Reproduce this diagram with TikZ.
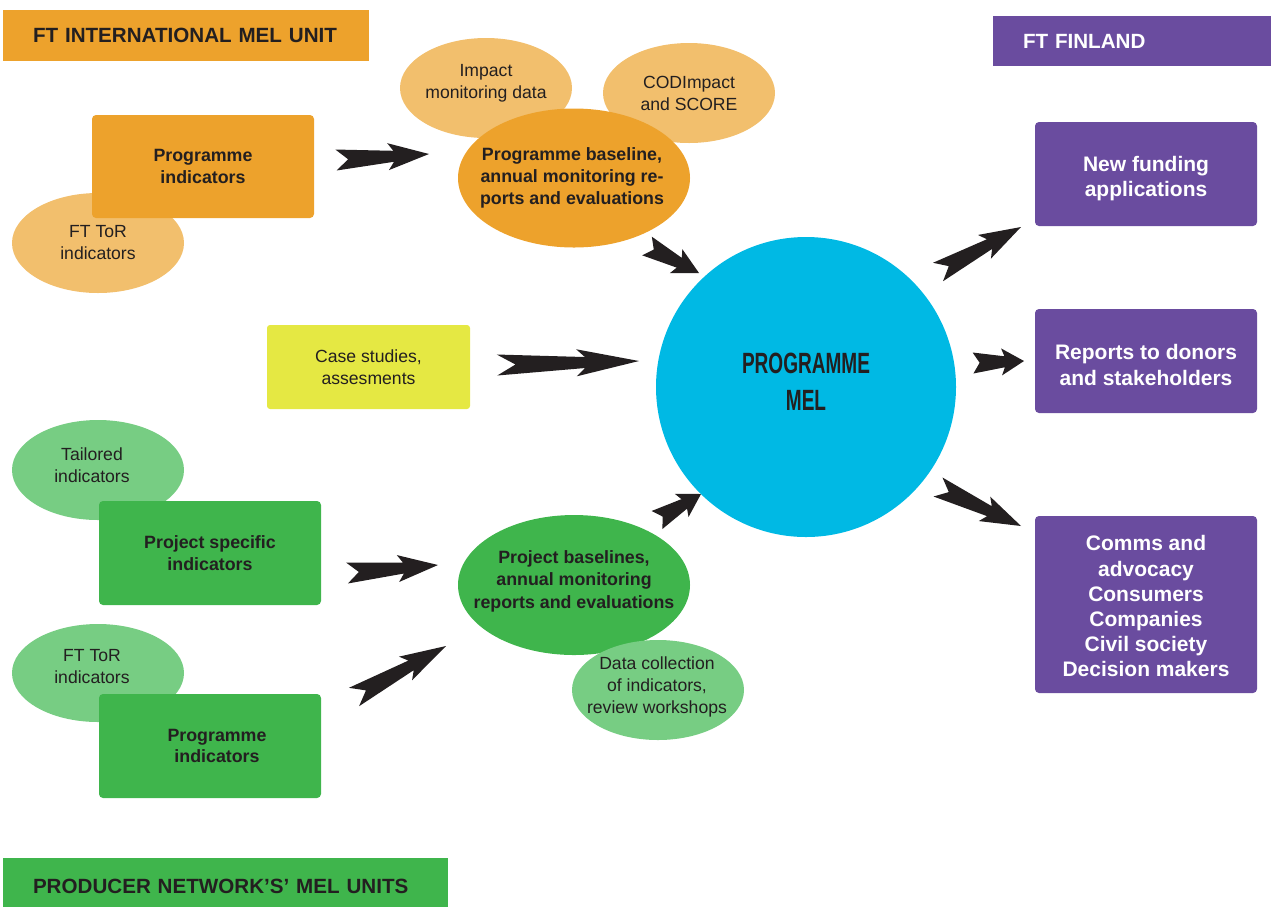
\documentclass[tikz,border=0pt]{standalone}
\usepackage{fontspec}
\setmainfont{Liberation Sans}
\newfontfamily\melfont[FakeStretch=0.65]{Liberation Sans}
\usetikzlibrary{calc,shapes.geometric}

\definecolor{ftink}{HTML}{231F20}
\definecolor{ftorange}{HTML}{EDA22C}
\definecolor{ftorangelt}{HTML}{F2BF6D}
\definecolor{ftcyan}{HTML}{00B9E4}
\definecolor{ftyellow}{HTML}{E5E843}
\definecolor{ftgreen}{HTML}{3FB54C}
\definecolor{ftgreenlt}{HTML}{77CD83}
\definecolor{ftpurple}{HTML}{6A4C9F}

\newcommand{\bodyfont}{\fontsize{17.6}{22}\selectfont}
\newcommand{\bodybold}{\fontsize{17.8}{21.8}\selectfont\bfseries}
\newcommand{\headfont}{\fontsize{20.6}{25}\selectfont\bfseries}
\newcommand{\purplefont}{\fontsize{21}{25.2}\selectfont\bfseries}

\tikzset{
  box/.style={rectangle, rounded corners=4pt, inner sep=0pt, minimum width=222pt,
    minimum height=104pt, align=center, font=\bodybold, text=ftink},
  outbox/.style={box, fill=ftpurple, text=white, font=\purplefont},
  blob/.style={ellipse, inner sep=0pt, minimum width=172pt, minimum height=100pt},
  bigblob/.style={ellipse, inner sep=0pt, minimum width=232pt, minimum height=139pt},
  blobtext/.style={align=center, font=\bodyfont, text=ftink, yshift=5pt},
  header/.style={rectangle, inner xsep=30pt, inner ysep=0pt, align=left, font=\headfont, text=ftink},
  arrowink/.style={fill=ftink},
}

% freccia piena con coda a rondine
\newcommand{\fatarrow}[2]{%
  \fill[arrowink] ($(#1)!10.5pt!90:(#2)$) -- ($(#1)!0.13!(#2)$) -- ($(#1)!10.5pt!-90:(#2)$)
    -- ($(#1)!0.62!(#2)!5.5pt!-90:(#2)$) -- ($(#1)!0.56!(#2)!13.5pt!-90:(#2)$)
    -- (#2) -- ($(#1)!0.56!(#2)!13.5pt!90:(#2)$) -- ($(#1)!0.62!(#2)!5.5pt!90:(#2)$) -- cycle;}

\begin{document}
\begin{tikzpicture}[x=1pt,y=-1pt]
\useasboundingbox (0,0) rectangle (1273,906);

% intestazioni
\node[header, fill=ftorange, text width=306pt, minimum height=51pt] (hdrint) at (186,35.5) {FT INTERNATIONAL MEL UNIT};
\node[header, fill=ftpurple, text=white, text width=218pt, minimum height=50pt] (hdrfin) at (1132,41) {FT FINLAND};
\node[header, fill=ftgreen, text width=385pt, minimum height=56pt] (hdrprod) at (225.5,886) {PRODUCER NETWORK’S’ MEL UNITS};

% blocco arancione
\node[blob, fill=ftorangelt] (ftor1) at (98,243) {};
\node[blobtext, yshift=-5pt] (ftor1-t) at (ftor1) {FT ToR\\indicators};
\node[box, fill=ftorange, minimum height=103pt] (progind) at (203,166.5) {Programme\\indicators};
\node[blob, fill=ftorangelt] (impact) at (486,88) {};
\node[blobtext] (impact-t) at (impact) {Impact\\monitoring data};
\node[blob, fill=ftorangelt] (codi) at (689,93) {};
\node[blobtext, yshift=-5pt] (codi-t) at (codi) {CODImpact\\and SCORE};
\node[bigblob, fill=ftorange] (pbase) at (574,178) {};
\node[blobtext, font=\bodybold, xshift=-2pt, yshift=-5pt] (pbase-t) at (pbase) {Programme baseline,\\annual monitoring re-\\ports and evaluations};

% centro
\node[circle, fill=ftcyan, minimum size=300pt, inner sep=0pt] (mel) at (806,387) {};
\node[align=center, text=ftink, font=\melfont\bfseries\fontsize{29.3}{37}\selectfont, yshift=5pt] (mel-t) at (mel) {PROGRAMME\\MEL};

\node[box, fill=ftyellow, rounded corners=3pt, minimum width=203pt, minimum height=84pt, font=\bodyfont] (cases) at (368.5,367) {Case studies,\\assesments};

% blocco verde
\node[blob, fill=ftgreenlt] (tailor) at (98,470) {};
\node[blobtext, xshift=-6pt] (tailor-t) at (tailor) {Tailored\\indicators};
\node[box, fill=ftgreen] (projspec) at (210,553) {Project specific\\indicators};
\node[blob, fill=ftgreenlt, minimum height=98pt] (ftor2) at (98,673) {};
\node[blobtext, xshift=-6pt, yshift=1pt] (ftor2-t) at (ftor2) {FT ToR\\indicators};
\node[box, fill=ftgreen] (progind2) at (210,746) {\hspace*{14pt}Programme\\\hspace*{14pt}indicators};
\node[bigblob, fill=ftgreen, minimum height=140pt] (projbase) at (574,585) {};
\node[blobtext, font=\bodybold\fontsize{17.8}{22.6}\selectfont, yshift=-1pt] (projbase-t) at (projbase) {Project baselines,\\annual monitoring\\reports and evaluations};
\node[blob, fill=ftgreenlt] (datacoll) at (658,690) {};
\node[blobtext, xshift=-1pt, yshift=-2pt] (datacoll-t) at (datacoll) {Data collection\\of indicators,\\review workshops};

% uscite
\node[outbox] (newfund) at (1146,174) {\rule{0pt}{25pt}New funding\\applications};
\node[outbox] (reports) at (1146,361) {\rule{0pt}{23pt}Reports to donors\\and stakeholders};
\node[outbox, minimum height=177pt] (comms) at (1146,604.5)
  {\rule{0pt}{19pt}Comms and\\advocacy\\Consumers\\Companies\\Civil society\\Decision makers};

% frecce
\coordinate (a1s) at (336,160);  \coordinate (a1e) at (429,154);
\coordinate (a2s) at (647,246);  \coordinate (a2e) at (699,273);
\coordinate (a3s) at (497,365);  \coordinate (a3e) at (639,361);
\coordinate (a4s) at (347,573);  \coordinate (a4e) at (438,565);
\coordinate (a5s) at (657,520);  \coordinate (a5e) at (701,494);
\coordinate (a6s) at (354,697);  \coordinate (a6e) at (446,646);
\coordinate (a7s) at (938,272);  \coordinate (a7e) at (1021,227);
\coordinate (a8s) at (973,363);  \coordinate (a8e) at (1024,361);
\coordinate (a9s) at (938,487);  \coordinate (a9e) at (1021,526);
\foreach \i in {1,...,9}{
  \fatarrow{a\i s}{a\i e}
}
\end{tikzpicture}
\end{document}
